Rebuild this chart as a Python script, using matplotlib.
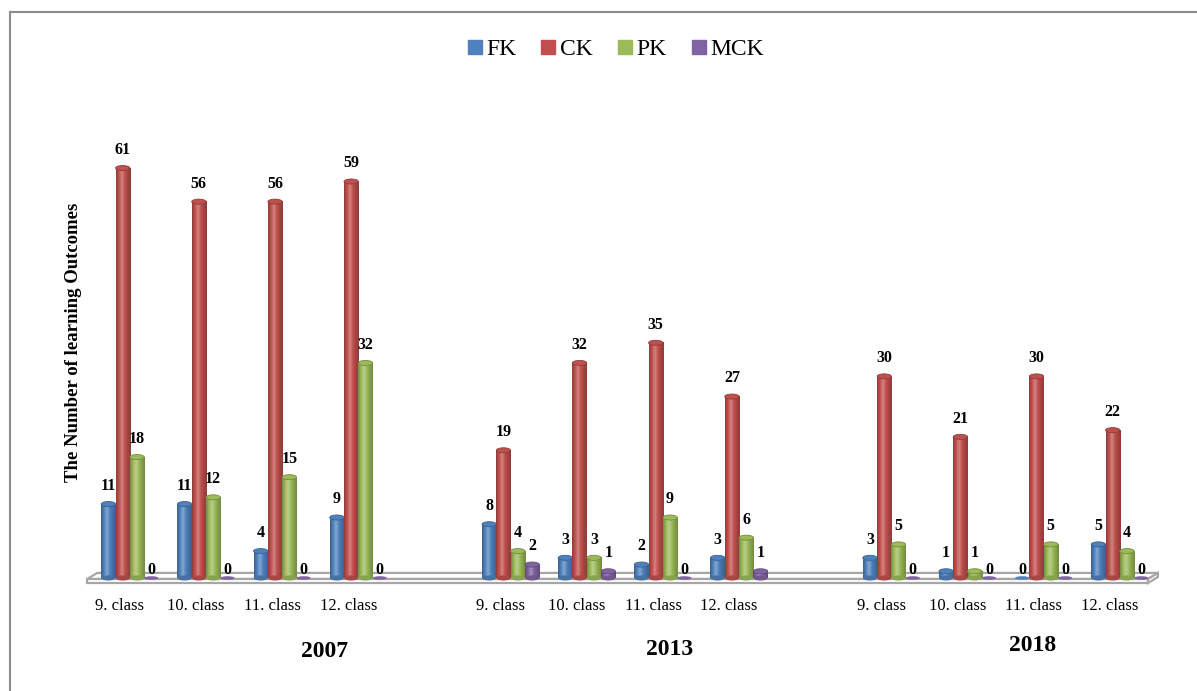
import numpy as np
import matplotlib
matplotlib.use('Agg')
import matplotlib.pyplot as plt
from matplotlib.patches import Ellipse, Polygon, Rectangle
from matplotlib.lines import Line2D
from matplotlib.colors import LinearSegmentedColormap, to_rgb

plt.rcParams['font.family'] = ['Liberation Serif', 'DejaVu Serif']

# data
years = ['2007', '2013', '2018']
classes = ['9. class', '10. class', '11. class', '12. class']
series = ['FK', 'CK', 'PK', 'MCK']
FK = [11, 11, 4, 9, 8, 3, 2, 3, 3, 1, 0, 5]
CK = [61, 56, 56, 59, 19, 32, 35, 27, 30, 21, 30, 22]
PK = [18, 12, 15, 32, 4, 3, 9, 6, 5, 1, 5, 4]
MCK = [0, 0, 0, 0, 2, 1, 0, 1, 0, 0, 0, 0]
colors = ['#4F81BD', '#C0504D', '#9BBB59', '#8064A2']

values = [FK, CK, PK, MCK]
# slot positions: 4 classes per year, one empty slot between years
slots = [g * 5 + c for g in range(3) for c in range(4)]
bar_w = 0.188
offset = 0.13

fig = plt.figure(figsize=(11.97, 6.91), dpi=100)
ax = fig.add_axes([0.0557, 0.1441, 0.9161, 0.7002])
ax.set_xlim(-0.7, 13.7)
ax.set_ylim(-2, 70)
ax.axis('off')


def shade_cmap(c):
    r = np.array(to_rgb(c))
    dark = r * 0.75
    light = np.clip(r + (1 - r) * 0.3, 0, 1)
    return LinearSegmentedColormap.from_list('s', [dark, r, light, r, r * 0.85, dark])


grad = np.linspace(0, 1, 64).reshape(1, -1)

# floor slab
top_face = Polygon([(-0.30, 0.75), (13.63, 0.75), (13.50, -0.15), (-0.43, -0.15)],
                   closed=True, facecolor='white', edgecolor='#a6a6a6', lw=1.6, zorder=1)
front = Rectangle((-0.43, -0.75), 13.93, 0.6, facecolor='white',
                  edgecolor='#a6a6a6', lw=1.6, zorder=1)
side = Polygon([(13.50, -0.15), (13.63, 0.75), (13.63, 0.15), (13.50, -0.75)],
               closed=True, facecolor='white', edgecolor='#a6a6a6', lw=1.6, zorder=1)
ax.add_patch(top_face)
ax.add_patch(front)
ax.add_patch(side)

cap_h = 0.75
for k, (vals, col) in enumerate(zip(values, colors)):
    cm = shade_cmap(col)
    for s, v in zip(slots, vals):
        xc = s + offset + (k - 1.5) * bar_w
        x0 = xc - bar_w / 2
        x1 = xc + bar_w / 2
        z = 3 + k * 0.01
        if v > 0:
            ax.imshow(grad, cmap=cm, extent=(x0, x1, 0, v), aspect='auto',
                      zorder=z, interpolation='bilinear')
            ax.add_patch(Ellipse((xc, 0), bar_w, cap_h, facecolor=cm(0.1),
                                 edgecolor='none', zorder=z))
            ax.add_patch(Ellipse((xc, v), bar_w, cap_h, facecolor=col,
                                 edgecolor=cm(0.0), lw=0.6, zorder=z + 0.005))
            ax.text(xc, v + 2.7, str(v), ha='center', va='center',
                    fontsize=11.5, fontweight='bold', zorder=10)
        else:
            ax.add_patch(Ellipse((xc, 0), bar_w, cap_h * 0.7, facecolor=col,
                                 edgecolor='none', zorder=z))
            ax.text(xc, 1.2, '0', ha='center', va='center',
                    fontsize=11.5, fontweight='bold', zorder=10)

# category labels
for s, i in zip(slots, range(12)):
    ax.text(s, -4.2, classes[i % 4], ha='center', va='center', fontsize=12,
            clip_on=False)

# year labels
year_x = [2.69, 7.22, 11.98]
year_y = [-10.9, -10.7, -10.0]
for yr, xx, yy in zip(years, year_x, year_y):
    ax.text(xx, yy, yr, ha='center', va='center', fontsize=17,
            fontweight='bold', clip_on=False)

fig.text(0.061, 0.505, 'The Number of learning Outcomes', rotation=90,
         ha='center', va='center', fontsize=13.5, fontweight='bold')

# legend
handles = [Line2D([], [], marker='s', linestyle='none', markersize=10,
                  markerfacecolor=c, markeredgecolor=c) for c in colors]
fig.legend(handles, series, loc='center', bbox_to_anchor=(0.513, 0.929),
           ncol=4, frameon=False, fontsize=17, handletextpad=0.05,
           columnspacing=0.9, handlelength=0.9)

# chart frame (top and left edges visible)
fig.add_artist(Line2D([10 / 1197, 1.0], [1 - 12 / 691, 1 - 12 / 691],
                      transform=fig.transFigure, color='#8c8c8c', lw=1.5))
fig.add_artist(Line2D([10 / 1197, 10 / 1197], [0, 1 - 12 / 691],
                      transform=fig.transFigure, color='#8c8c8c', lw=1.5))

fig.savefig('out.png', dpi=100)
